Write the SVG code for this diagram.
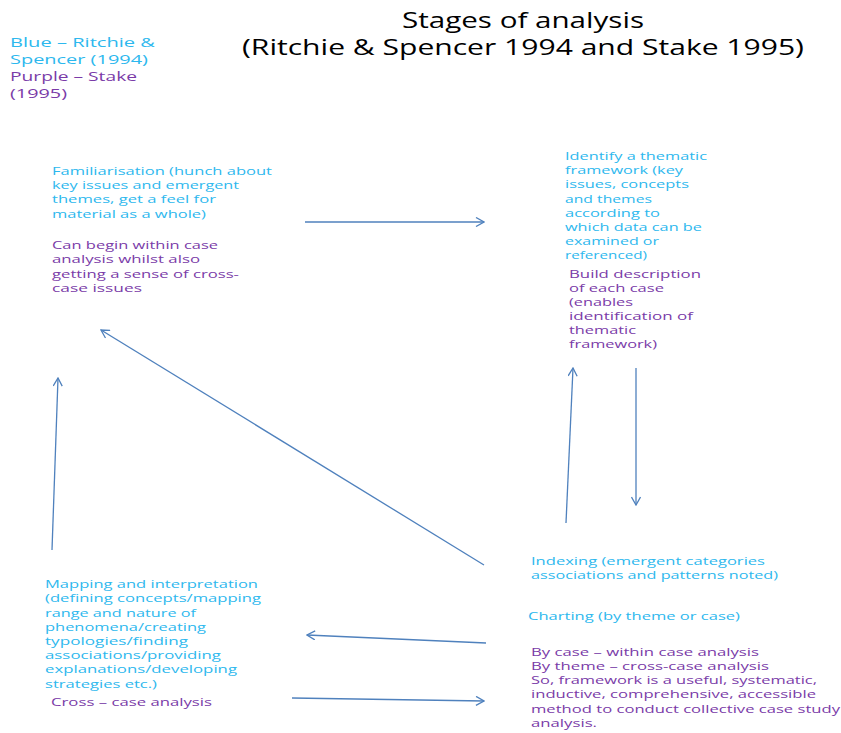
<svg xmlns="http://www.w3.org/2000/svg" width="841" height="733" viewBox="0 0 841 733">
<defs>
<marker id="arr" viewBox="0 0 10 10" refX="9" refY="5" markerWidth="10" markerHeight="10" markerUnits="userSpaceOnUse" orient="auto">
<path d="M1,0.5 L9,5 L1,9.5" fill="none" stroke="#4F81BD" stroke-width="1.3"/>
</marker>
</defs>
<style>
text{font-family:"Open Sans","DejaVu Sans",sans-serif;}
.title{font-size:21px;fill:#000;}
.leg{font-size:13px;}
.b{font-size:11.5px;fill:#2DB8EE;}
.p{font-size:11.5px;fill:#7A3BA8;}
.lb{fill:#2DB8EE;}
.lp{fill:#7A3BA8;}
.c{stroke:#4F81BD;stroke-width:1.3;fill:none;marker-end:url(#arr);}
</style>
<rect width="841" height="733" fill="#fff"/>
<g id="title">
<text class="title" x="402" y="28" textLength="242" lengthAdjust="spacingAndGlyphs">Stages of analysis</text>
<text class="title" x="242" y="55" textLength="562" lengthAdjust="spacingAndGlyphs">(Ritchie &amp; Spencer 1994 and Stake 1995)</text>
</g>
<g id="legend">
<text class="leg lb" x="10" y="47" textLength="145" lengthAdjust="spacingAndGlyphs">Blue – Ritchie &amp;</text>
<text class="leg lb" x="10" y="64" textLength="138" lengthAdjust="spacingAndGlyphs">Spencer (1994)</text>
<text class="leg lp" x="10" y="81" textLength="127" lengthAdjust="spacingAndGlyphs">Purple – Stake</text>
<text class="leg lp" x="10" y="98" textLength="57" lengthAdjust="spacingAndGlyphs">(1995)</text>
</g>
<g id="familiarisation">
<text class="b" x="52" y="175" textLength="220" lengthAdjust="spacingAndGlyphs">Familiarisation (hunch about</text>
<text class="b" x="52" y="189" textLength="187" lengthAdjust="spacingAndGlyphs">key  issues and emergent</text>
<text class="b" x="52" y="203" textLength="164" lengthAdjust="spacingAndGlyphs">themes,  get a feel for</text>
<text class="b" x="52" y="218" textLength="154" lengthAdjust="spacingAndGlyphs">material as a whole)</text>
<text class="p" x="52" y="249" textLength="166" lengthAdjust="spacingAndGlyphs">Can begin within case</text>
<text class="p" x="52" y="263" textLength="148" lengthAdjust="spacingAndGlyphs">analysis whilst also</text>
<text class="p" x="52" y="278" textLength="187" lengthAdjust="spacingAndGlyphs">getting a sense of cross-</text>
<text class="p" x="52" y="292" textLength="90" lengthAdjust="spacingAndGlyphs">case  issues</text>
</g>
<g id="framework">
<text class="b" x="565" y="160" textLength="142" lengthAdjust="spacingAndGlyphs">Identify a thematic</text>
<text class="b" x="565" y="174" textLength="118" lengthAdjust="spacingAndGlyphs">framework (key</text>
<text class="b" x="565" y="188" textLength="124" lengthAdjust="spacingAndGlyphs">issues, concepts</text>
<text class="b" x="565" y="203" textLength="87" lengthAdjust="spacingAndGlyphs">and themes</text>
<text class="b" x="565" y="217" textLength="95" lengthAdjust="spacingAndGlyphs">according to</text>
<text class="b" x="565" y="231" textLength="137" lengthAdjust="spacingAndGlyphs">which data can be</text>
<text class="b" x="565" y="245" textLength="94" lengthAdjust="spacingAndGlyphs">examined or</text>
<text class="b" x="565" y="259" textLength="82" lengthAdjust="spacingAndGlyphs">referenced)</text>
<text class="p" x="569" y="278" textLength="132" lengthAdjust="spacingAndGlyphs">Build description</text>
<text class="p" x="569" y="292" textLength="95" lengthAdjust="spacingAndGlyphs">of each case</text>
<text class="p" x="569" y="306" textLength="64" lengthAdjust="spacingAndGlyphs">(enables</text>
<text class="p" x="569" y="320" textLength="124" lengthAdjust="spacingAndGlyphs">identification of</text>
<text class="p" x="569" y="334" textLength="67" lengthAdjust="spacingAndGlyphs">thematic</text>
<text class="p" x="569" y="348" textLength="88" lengthAdjust="spacingAndGlyphs">framework)</text>
</g>
<g id="indexing">
<text class="b" x="531" y="565" textLength="234" lengthAdjust="spacingAndGlyphs">Indexing (emergent  categories</text>
<text class="b" x="531" y="579" textLength="247" lengthAdjust="spacingAndGlyphs">associations and patterns noted)</text>
</g>
<g id="charting">
<text class="b" x="528" y="620" textLength="212" lengthAdjust="spacingAndGlyphs">Charting (by theme  or case)</text>
<text class="p" x="531" y="656" textLength="228" lengthAdjust="spacingAndGlyphs">By case – within case analysis</text>
<text class="p" x="531" y="670" textLength="238" lengthAdjust="spacingAndGlyphs">By theme  – cross-case analysis</text>
<text class="p" x="531" y="684" textLength="286" lengthAdjust="spacingAndGlyphs">So, framework  is a useful, systematic,</text>
<text class="p" x="531" y="698" textLength="285" lengthAdjust="spacingAndGlyphs">inductive, comprehensive,  accessible</text>
<text class="p" x="531" y="713" textLength="309" lengthAdjust="spacingAndGlyphs">method  to conduct collective case study</text>
<text class="p" x="531" y="727" textLength="66" lengthAdjust="spacingAndGlyphs">analysis.</text>
</g>
<g id="mapping">
<text class="b" x="45" y="588" textLength="213" lengthAdjust="spacingAndGlyphs">Mapping and interpretation</text>
<text class="b" x="45" y="602" textLength="216" lengthAdjust="spacingAndGlyphs">(defining concepts/mapping</text>
<text class="b" x="45" y="617" textLength="151" lengthAdjust="spacingAndGlyphs">range and nature of</text>
<text class="b" x="45" y="631" textLength="161" lengthAdjust="spacingAndGlyphs">phenomena/creating</text>
<text class="b" x="45" y="645" textLength="143" lengthAdjust="spacingAndGlyphs">typologies/finding</text>
<text class="b" x="45" y="659" textLength="176" lengthAdjust="spacingAndGlyphs">associations/providing</text>
<text class="b" x="45" y="673" textLength="192" lengthAdjust="spacingAndGlyphs">explanations/developing</text>
<text class="b" x="45" y="688" textLength="112" lengthAdjust="spacingAndGlyphs">strategies etc.)</text>
<text class="p" x="51" y="706" textLength="161" lengthAdjust="spacingAndGlyphs">Cross – case analysis</text>
</g>
<g id="connectors">
<line class="c" x1="305" y1="222" x2="484" y2="222"/>
<line class="c" x1="566" y1="523" x2="573" y2="368"/>
<line class="c" x1="636" y1="368" x2="636" y2="505"/>
<line class="c" x1="484" y1="565" x2="101" y2="330"/>
<line class="c" x1="486" y1="643" x2="307" y2="635"/>
<line class="c" x1="292" y1="698" x2="484" y2="701"/>
<line class="c" x1="52" y1="550" x2="58" y2="378"/>
</g>
</svg>
